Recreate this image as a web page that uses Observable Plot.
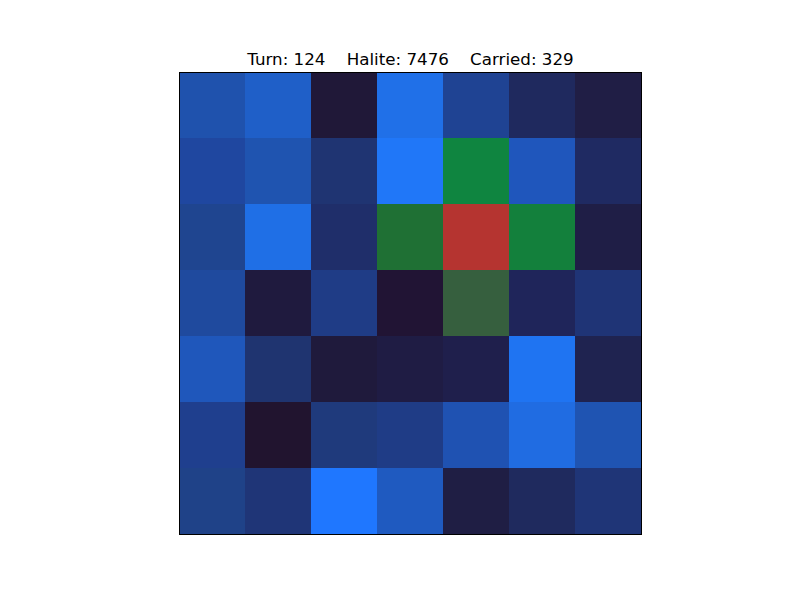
<!DOCTYPE html>
<html>
<head>
<meta charset="utf-8">
<script src="https://cdn.jsdelivr.net/npm/d3@7"></script>
<script src="https://cdn.jsdelivr.net/npm/@observablehq/plot@0.6"></script>
<style>
  body { margin: 0; background: #fff; }
  svg { display: block; }
</style>
</head>
<body>
<div id="chart"></div>
<script>
const turn = 124;
const halite = 7476;
const carried = 329;
const row0 = ["#1f52ad", "#1f5fc8", "#201838", "#2070e8", "#1f4393", "#1f295e", "#201e45"];
const row1 = ["#1f47a0", "#1f54b0", "#1f3472", "#2077f8", "#0f8540", "#1f56bc", "#1f2a62"];
const row2 = ["#1f4590", "#1f6fe6", "#1f2e6a", "#1f7034", "#b53430", "#13803c", "#1f1e46"];
const row3 = ["#1f4a9e", "#1f1a3e", "#1f3c86", "#211434", "#365f3e", "#1f255a", "#1f3476"];
const row4 = ["#1f57bb", "#1f3470", "#1f1a3c", "#1f1c44", "#1f1f4c", "#1f74f2", "#1f2350"];
const row5 = ["#1f3f8e", "#21142f", "#1f3a7c", "#1f3c86", "#1f52b2", "#206ce2", "#1f54b2"];
const row6 = ["#1f4288", "#1f3577", "#1f77ff", "#1f5ac0", "#1f1e44", "#1f2a5e", "#1f3577"];
const rows = [row0, row1, row2, row3, row4, row5, row6];

const cells = [];
rows.forEach((r, i) => r.forEach((c, j) => cells.push({row: i, col: j, color: c})));
const idx = d3.range(7);
const sp = "\u00a0\u00a0\u00a0\u00a0";
const title = `Turn: ${turn}${sp}Halite: ${halite}${sp}Carried: ${carried}`;

const chart = Plot.plot({
  width: 800,
  height: 600,
  marginTop: 72,
  marginBottom: 66,
  marginLeft: 179,
  marginRight: 159,
  style: { fontFamily: "DejaVu Sans", background: "#fff" },
  x: { domain: idx, padding: 0, round: true, axis: null },
  y: { domain: idx, padding: 0, round: true, axis: null },
  marks: [
    Plot.cell(cells, { x: "col", y: "row", fill: "color", inset: 0, shapeRendering: "crispEdges" }),
    Plot.frame({ stroke: "#000", strokeWidth: 1 }),
    Plot.text([title], {
      frameAnchor: "top",
      dy: -8,
      lineAnchor: "bottom",
      fontSize: 16.7,
      fill: "#000",
      text: d => d
    })
  ]
});
document.getElementById("chart").appendChild(chart);
</script>
</body>
</html>
